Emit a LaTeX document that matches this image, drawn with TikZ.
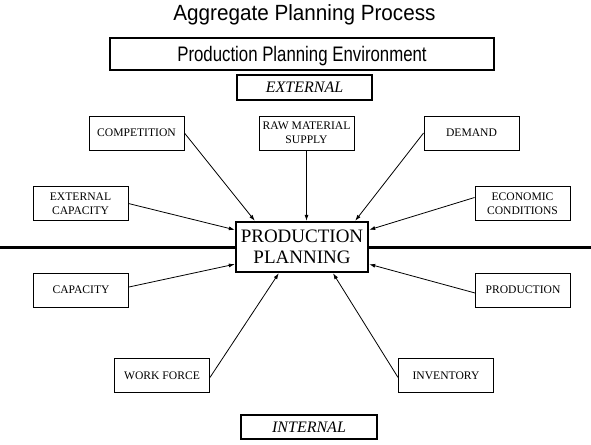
\documentclass[tikz,border=0pt]{standalone}
\usepackage{fontspec}
\setmainfont{Liberation Serif}
\newfontfamily\headfont{Liberation Sans}
\usetikzlibrary{arrows.meta,calc}

\tikzset{
factor/.style={draw,line width=0.9pt,minimum width=95pt,minimum height=34pt,align=center,inner sep=1pt,font=\fontsize{11.6}{14}\selectfont},
frame/.style={draw,line width=2pt,inner sep=0pt},
link/.style={->,line width=0.8pt}
}

\begin{document}
\begin{tikzpicture}[x=1pt,y=-1pt,>={Latex[length=6pt,width=4pt]}]
\useasboundingbox (0,0) rectangle (591,444);
% headings
\node[anchor=base,font=\headfont\fontsize{22}{24}\selectfont] (title) at (304.5,20.7) {\scalebox{0.94}[1]{Aggregate Planning Process}};
\node[frame,minimum width=384pt,minimum height=32pt,text depth=0pt,font=\headfont\fontsize{21}{24}\selectfont] (env) at (302,54) {\scalebox{0.8}[1]{Production Planning Environment}};
\node[frame,minimum width=135pt,minimum height=25pt,font=\itshape\fontsize{16}{18}\selectfont] (ext) at (304.5,87.5) {EXTERNAL};
\node[frame,minimum width=136pt,minimum height=24pt,font=\itshape\fontsize{16}{18}\selectfont] (int) at (309,427) {INTERNAL};
% centre box and divider
\node[draw,line width=2.4pt,minimum width=132pt,minimum height=50pt,align=center,inner sep=0pt,font=\fontsize{19}{20.7}\selectfont] (pp) at (302,247) {PRODUCTION\\PLANNING};
\coordinate (lft) at (0,247);
\coordinate (rgt) at (591,247);
\draw[line width=3pt] (lft) -- (pp.west);
\draw[line width=3pt] (pp.east) -- (rgt);
% factors
\foreach \nm/\px/\py/\txt in {comp/136.5/133/COMPETITION, raw/306.5/133/{RAW MATERIAL\\SUPPLY}, demand/471.5/133/DEMAND,
  extcap/80.5/203.5/{EXTERNAL\\CAPACITY}, econ/522.5/203.5/{ECONOMIC\\CONDITIONS},
  cap/81/290/CAPACITY, prod/523/290/PRODUCTION, wf/162/375.5/WORK FORCE, inv/446/375.5/INVENTORY}
{
\node[factor] (\nm) at (\px,\py) {\txt};
}
% arrows into the centre box
\draw[link] (comp.east) -- ([xshift=20pt]pp.north west);
\draw[link] (raw.south) -- (raw.south |- pp.north);
\draw[link] (demand.west) -- ([xshift=-14pt]pp.north east);
\draw[link] (extcap.east) -- ([yshift=-9pt]pp.north west);
\draw[link] ([yshift=6pt]econ.west) -- ([yshift=-9pt]pp.north east);
\draw[link] ([yshift=3pt]cap.east) -- ([yshift=9pt]pp.south west);
\draw[link] ([yshift=-3pt]prod.west) -- ([yshift=9pt]pp.south east);
\draw[link] ([yshift=-2pt]wf.east) -- ([xshift=44pt]pp.south west);
\draw[link] ([yshift=-2pt]inv.west) -- ([xshift=31pt]pp.south);
\end{tikzpicture}
\end{document}
